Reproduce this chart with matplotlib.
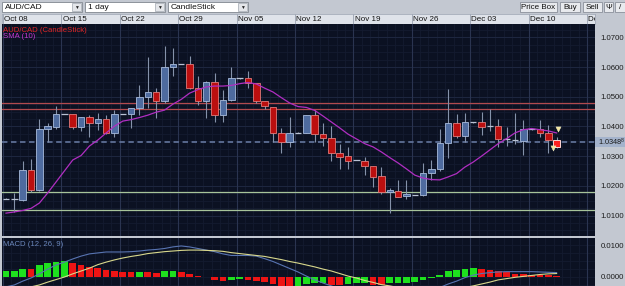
import numpy as np
import matplotlib.pyplot as plt
from matplotlib.patches import Rectangle
import matplotlib.transforms as mtransforms

plt.rcParams['font.family'] = ['Liberation Sans', 'DejaVu Sans']
plt.rcParams['mathtext.default'] = 'regular'

# AUD/CAD daily candles
opens = [1.0157, 1.0157, 1.0152, 1.0253, 1.0186, 1.0390, 1.0399, 1.0442, 1.0442, 1.0399,
         1.0431, 1.0410, 1.0424, 1.0377, 1.0442, 1.0442, 1.0463, 1.0500, 1.0515, 1.0487,
         1.0599, 1.0610, 1.0610, 1.0528, 1.0487, 1.0548, 1.0438, 1.0489, 1.0562, 1.0562,
         1.0545, 1.0487, 1.0466, 1.0377, 1.0349, 1.0379, 1.0379, 1.0438, 1.0373, 1.0360,
         1.0309, 1.0300, 1.0287, 1.0284, 1.0268, 1.0233, 1.0180, 1.0183, 1.0166, 1.0169,
         1.0169, 1.0244, 1.0256, 1.0343, 1.0410, 1.0368, 1.0414, 1.0414, 1.0401, 1.0401,
         1.0357, 1.0354, 1.0352, 1.0390, 1.0390, 1.0377, 1.0354]
highs = [1.0158, 1.0175, 1.0284, 1.0289, 1.0425, 1.0410, 1.0469, 1.0443, 1.0442, 1.0432,
         1.0438, 1.0446, 1.0438, 1.0455, 1.0443, 1.0463, 1.0539, 1.0635, 1.0530, 1.0671,
         1.0663, 1.0611, 1.0637, 1.0570, 1.0554, 1.0579, 1.0523, 1.0601, 1.0563, 1.0587,
         1.0545, 1.0487, 1.0466, 1.0394, 1.0431, 1.0380, 1.0438, 1.0455, 1.0410, 1.0401,
         1.0340, 1.0330, 1.0288, 1.0298, 1.0268, 1.0262, 1.0191, 1.0220, 1.0220, 1.0170,
         1.0276, 1.0287, 1.0390, 1.0525, 1.0442, 1.0445, 1.0415, 1.0450, 1.0458, 1.0424,
         1.0397, 1.0445, 1.0422, 1.0391, 1.0422, 1.0405, 1.0365]
lows = [1.0156, 1.0113, 1.0148, 1.0180, 1.0182, 1.0349, 1.0390, 1.0441, 1.0390, 1.0386,
        1.0365, 1.0388, 1.0374, 1.0365, 1.0441, 1.0394, 1.0438, 1.0463, 1.0427, 1.0480,
        1.0570, 1.0609, 1.0525, 1.0472, 1.0427, 1.0416, 1.0416, 1.0486, 1.0561, 1.0530,
        1.0478, 1.0458, 1.0349, 1.0309, 1.0330, 1.0378, 1.0378, 1.0349, 1.0334, 1.0284,
        1.0256, 1.0256, 1.0286, 1.0236, 1.0197, 1.0172, 1.0109, 1.0163, 1.0155, 1.0168,
        1.0166, 1.0220, 1.0251, 1.0293, 1.0360, 1.0349, 1.0413, 1.0371, 1.0386, 1.0330,
        1.0334, 1.0341, 1.0304, 1.0389, 1.0365, 1.0309, 1.0326]
closes = [1.0157, 1.0157, 1.0253, 1.0186, 1.0390, 1.0401, 1.0442, 1.0442, 1.0399, 1.0432,
          1.0410, 1.0425, 1.0377, 1.0442, 1.0442, 1.0463, 1.0500, 1.0515, 1.0487, 1.0599,
          1.0610, 1.0610, 1.0528, 1.0487, 1.0548, 1.0438, 1.0489, 1.0562, 1.0562, 1.0545,
          1.0487, 1.0469, 1.0377, 1.0349, 1.0377, 1.0379, 1.0438, 1.0374, 1.0360, 1.0309,
          1.0298, 1.0284, 1.0287, 1.0267, 1.0231, 1.0180, 1.0185, 1.0163, 1.0171, 1.0169,
          1.0244, 1.0256, 1.0343, 1.0410, 1.0368, 1.0414, 1.0414, 1.0399, 1.0401, 1.0357,
          1.0357, 1.0354, 1.0390, 1.0390, 1.0379, 1.0354, 1.0330]
sma10 = [1.0108, 1.0112, 1.0117, 1.0124, 1.0142, 1.0176, 1.0213, 1.0250, 1.0287, 1.0302,
         1.0334, 1.0354, 1.0378, 1.0401, 1.0418, 1.0423, 1.0430, 1.0438, 1.0448, 1.0455,
         1.0475, 1.0491, 1.0512, 1.0524, 1.0533, 1.0536, 1.0536, 1.0538, 1.0544, 1.0548,
         1.0543, 1.0529, 1.0516, 1.0497, 1.0479, 1.0467, 1.0464, 1.0454, 1.0435, 1.0415,
         1.0395, 1.0374, 1.0358, 1.0342, 1.0331, 1.0314, 1.0295, 1.0277, 1.0257, 1.0236,
         1.0226, 1.0221, 1.0220, 1.0230, 1.0241, 1.0263, 1.0280, 1.0300, 1.0321, 1.0342,
         1.0359, 1.0378, 1.0389, 1.0393, 1.0389, 1.0385, 1.0378]

# MACD (12, 26, 9)
macd_line = [-0.0032, -0.0026, -0.0014, -0.0004, 0.0009, 0.0024, 0.0037, 0.0046, 0.0056, 0.0065,
             0.0072, 0.0075, 0.0078, 0.0078, 0.0078, 0.0079, 0.0081, 0.0084, 0.0086, 0.0089,
             0.0094, 0.0097, 0.0094, 0.0089, 0.0084, 0.0079, 0.0072, 0.0067, 0.0067, 0.0067,
             0.0065, 0.0057, 0.0048, 0.0037, 0.0026, 0.0015, 0.0002, -0.0010, -0.0020, -0.0029,
             -0.0039, -0.0045, -0.0050, -0.0053, -0.0058, -0.0063, -0.0066, -0.0067, -0.0066, -0.0060,
             -0.0054, -0.0045, -0.0034, -0.0023, -0.0014, -0.0003, 0.0005, 0.0010, 0.0013, 0.0015,
             0.0016, 0.0016, 0.0016, 0.0016, 0.0015, 0.0014, 0.0013]
macd_signal = [-0.0050, -0.0044, -0.0038, -0.0032, -0.0026, -0.0017, -0.0009, -0.0001, 0.0009, 0.0018,
               0.0027, 0.0038, 0.0046, 0.0053, 0.0059, 0.0064, 0.0068, 0.0073, 0.0076, 0.0079,
               0.0081, 0.0083, 0.0084, 0.0084, 0.0083, 0.0082, 0.0080, 0.0076, 0.0073, 0.0070,
               0.0067, 0.0064, 0.0059, 0.0054, 0.0048, 0.0043, 0.0037, 0.0031, 0.0024, 0.0018,
               0.0010, 0.0002, -0.0004, -0.0012, -0.0018, -0.0025, -0.0029, -0.0034, -0.0038, -0.0042,
               -0.0044, -0.0045, -0.0044, -0.0042, -0.0038, -0.0034, -0.0029, -0.0023, -0.0017, -0.0010,
               -0.0006, -0.0002, 0.0001, 0.0004, 0.0007, 0.0009, 0.0010]
macd_hist = [0.0018, 0.0018, 0.0024, 0.0023, 0.0037, 0.0044, 0.0047, 0.0048, 0.0042, 0.0037,
             0.0032, 0.0026, 0.0021, 0.0019, 0.0016, 0.0015, 0.0016, 0.0014, 0.0013, 0.0017,
             0.0019, 0.0015, 0.0009, 0.0001, -0.0001, -0.0010, -0.0014, -0.0009, -0.0008, -0.0009,
             -0.0014, -0.0016, -0.0023, -0.0030, -0.0032, -0.0031, -0.0023, -0.0021, -0.0020, -0.0026,
             -0.0027, -0.0023, -0.0021, -0.0019, -0.0026, -0.0027, -0.0021, -0.0020, -0.0019, -0.0016,
             -0.0010, -0.0003, 0.0005, 0.0017, 0.0021, 0.0024, 0.0027, 0.0024, 0.0021, 0.0017,
             0.0014, 0.0010, 0.0008, 0.0006, 0.0005, 0.0004, 0.0003]

week_labels = ["Oct 08", "Oct 15", "Oct 22", "Oct 29", "Nov 05", "Nov 12",
               "Nov 19", "Nov 26", "Dec 03", "Dec 10", "Dec 17"]
price_ticks = [1.01, 1.02, 1.03, 1.04, 1.05, 1.06, 1.07]
macd_ticks = [0.0, 0.01]
resistance = [1.0479, 1.0458]
support = [1.0178, 1.0117]
last_price = 1.0348
alert_x = [66.2, 65.55]
alert_y = [1.0391, 1.0327]

W, H = 625, 286
def box(x0, y0, x1, y1):
    return [x0 / W, 1 - y1 / H, (x1 - x0) / W, (y1 - y0) / H]

n = len(closes)
xs = np.arange(n)
o = np.array(opens); c = np.array(closes)
hi = np.array(highs); lo = np.array(lows)
xlim = (-0.48, 70.6)
weeks = 7 * np.arange(len(week_labels)) - 0.36

bg_col = '#0b1122'
fig = plt.figure(figsize=(6.25, 2.86), dpi=100)
fig.patch.set_facecolor('#c3c8d1')

# toolbar / frame
bg = fig.add_axes([0, 0, 1, 1])
bg.set_xlim(0, W); bg.set_ylim(H, 0); bg.axis('off')
for (x0, x1, txt) in [(2, 82, 'AUD/CAD'), (85, 165, '1 day'), (168, 248, 'CandleStick')]:
    bg.add_patch(Rectangle((x0, 2), x1 - x0, 10, fc='white', ec='#80868f', lw=0.6))
    bg.add_patch(Rectangle((x1 - 10, 2.6), 9.4, 8.8, fc='#e4e6ea', ec='#a0a6b0', lw=0.5))
    bg.text(x1 - 5.3, 7.3, '\u25bc', fontsize=3.5, ha='center', va='center', color='#222222')
    bg.text(x0 + 3, 7.2, txt, fontsize=6, va='center', color='#111111')
for (x0, x1, txt) in [(520, 557, 'Price Box'), (560, 580, 'Buy'), (583, 602, 'Sell'),
                      (604, 613, '\u03a8'), (615, 625, '/')]:
    bg.add_patch(Rectangle((x0, 2), x1 - x0, 10, fc='#e8eaee', ec='#8a909a', lw=0.6))
    bg.text((x0 + x1) / 2, 7.2, txt, fontsize=5.8, ha='center', va='center', color='#111111')

# date header
hdr = fig.add_axes(box(2, 14, 595, 24))
hdr.set_facecolor('#dfe3ea')
hdr.set_xlim(xlim); hdr.set_ylim(0, 1)
hdr.set_xticks([]); hdr.set_yticks([])
for s in hdr.spines.values():
    s.set_color('#a4abb8'); s.set_linewidth(0.6)
for wx, lab in zip(weeks, week_labels):
    hdr.axvline(wx, color='#a4abb8', lw=0.7)
    hdr.text(wx + 0.15, 0.45, lab, fontsize=5.8, va='center', ha='left', color='#111111', clip_on=True)

# main price panel
ax = fig.add_axes(box(2, 24, 595, 236))
ax.set_facecolor(bg_col)
ax.set_xlim(xlim); ax.set_ylim(1.0031, 1.0745)
for yv in np.arange(1.0050, 1.0745, 0.0025):
    ax.axhline(yv, color='#141b30', lw=0.6, zorder=0)
for xv in np.arange(0, 71) - 0.36:
    ax.axvline(xv, color='#141b30', lw=0.6, zorder=0)
for yv in price_ticks:
    ax.axhline(yv, color='#1e2740', lw=0.7, zorder=0)
for wx in weeks:
    ax.axvline(wx, color='#2a3450', lw=0.8, zorder=0)

for yv in resistance:
    ax.axhline(yv, color='#b24a4e', lw=0.9, zorder=1)
for yv in support:
    ax.axhline(yv, color='#a7c49a', lw=0.9, zorder=1)
ax.axhline(last_price, color='#5d6f95', lw=1.3, dashes=(3, 2), zorder=1)

ax.vlines(xs, lo, hi, color='#8592aa', lw=0.8, zorder=2)
doji = np.abs(c - o) < 0.0002
up = (c > o) & ~doji
dn = (c < o) & ~doji
dn_last = dn.copy(); dn_last[-1] = False
ax.bar(xs[up], (c - o)[up], bottom=o[up], width=0.78, color='#4e6b9f', edgecolor='#a8bbdc', lw=0.6, zorder=3)
ax.bar(xs[dn_last], (o - c)[dn_last], bottom=c[dn_last], width=0.78, color='#bb0f0f', edgecolor='#e07a7a', lw=0.6, zorder=3)
ax.bar(xs[-1:], (o - c)[-1:], bottom=c[-1:], width=0.78, color='#ff2020', edgecolor='#ffd6d6', lw=0.7, zorder=3)
ax.hlines(c[doji], xs[doji] - 0.39, xs[doji] + 0.39, color='#b9c2d4', lw=0.9, zorder=3)

ax.plot(xs, sma10, color='#b02ec2', lw=0.9, zorder=4)
ax.scatter(alert_x, alert_y, marker='v', s=14, color='#f2e6a0', edgecolor='#f8f2c8', lw=0.3, zorder=5)

ax.text(0.002, 0.988, 'AUD/CAD (CandleStick)', transform=ax.transAxes, fontsize=5.6,
        color='#e02626', va='top', ha='left')
ax.text(0.002, 0.958, 'SMA (10)', transform=ax.transAxes, fontsize=5.6,
        color='#c437cf', va='top', ha='left')

ax.yaxis.tick_right()
ax.set_yticks(price_ticks)
ax.set_yticklabels(['%.4f' % p for p in price_ticks])
ax.tick_params(axis='y', length=0, pad=3.8, labelsize=5.6, labelcolor='#1c1c1c')
ax.set_xticks([])
for s in ax.spines.values():
    s.set_visible(False)

trans = mtransforms.blended_transform_factory(ax.transAxes, ax.transData)
ax.add_patch(Rectangle((1.0, last_price - 0.00165), 30 / 593, 0.0033, transform=trans,
                       fc='#a4b3cc', ec='none', clip_on=False, zorder=6))
ax.text(1.0 + 2.5 / 593, last_price, '%.4f$^{8}$' % last_price, transform=trans, fontsize=5.3,
        va='center', ha='left', color='#1c1c1c', clip_on=False, zorder=7)

# MACD panel
mx = fig.add_axes(box(2, 238, 595, 286))
mx.set_facecolor(bg_col)
mx.set_xlim(xlim); mx.set_ylim(-0.00293, 0.01221)
for yv in np.arange(-0.0025, 0.0122, 0.0025):
    mx.axhline(yv, color='#141b30', lw=0.6, zorder=0)
for xv in np.arange(0, 71) - 0.36:
    mx.axvline(xv, color='#141b30', lw=0.6, zorder=0)
for wx in weeks:
    mx.axvline(wx, color='#2a3450', lw=0.8, zorder=0)

h = np.array(macd_hist)
rising = np.concatenate([[True], np.diff(h) >= 0])
cols = np.where(rising, '#1ee01e', '#ee1414')
mx.bar(xs, h, width=0.8, color=cols, zorder=2)
mx.plot(xs, macd_line, color='#5874b2', lw=0.8, zorder=3)
mx.plot(xs, macd_signal, color='#d8d88c', lw=0.8, zorder=3)
mx.text(0.002, 0.93, 'MACD (12, 26, 9)', transform=mx.transAxes, fontsize=5.6,
        color='#6a86ba', va='top', ha='left')

mx.yaxis.tick_right()
mx.set_yticks(macd_ticks)
mx.set_yticklabels(['%.4f' % v for v in macd_ticks])
mx.tick_params(axis='y', length=0, pad=3.8, labelsize=5.6, labelcolor='#1c1c1c')
mx.set_xticks([])
for s in mx.spines.values():
    s.set_visible(False)

fig.savefig('out.png', dpi=100, facecolor=fig.get_facecolor())
